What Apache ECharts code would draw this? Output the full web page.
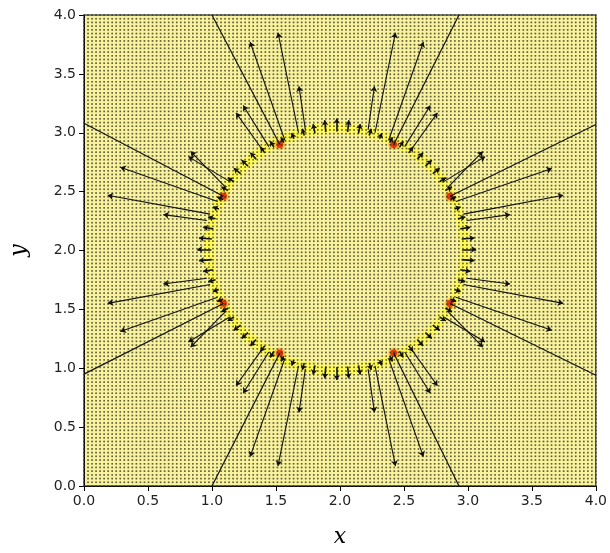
<!DOCTYPE html>
<html><head><meta charset="utf-8">
<script src="https://cdn.jsdelivr.net/npm/echarts@6/dist/echarts.min.js"></script>
<style>html,body{margin:0;padding:0;background:#fff}#c{width:610px;height:553px}</style>
</head><body><div id="c"></div>
<script>
// ---- data ----
const xTicks = [0, 0.5, 1, 1.5, 2, 2.5, 3, 3.5, 4];
const yTicks = [0, 0.5, 1, 1.5, 2, 2.5, 3, 3.5, 4];

// long quiver arrows: tail (x,y) and vector (u,v)
const arrowX = [1.568,1.676,1.730,1.398,1.444, 2.382,2.274,2.220,2.552,2.506,
                2.906,2.965,2.990,2.814,2.847, 2.906,2.965,2.990,2.814,2.847,
                2.382,2.274,2.220,2.552,2.506, 1.568,1.676,1.730,1.398,1.444,
                1.044,0.985,0.960,1.136,1.103, 1.044,0.985,0.960,1.136,1.103];
const arrowY = [2.941,3.000,3.025,2.849,2.882, 2.941,3.000,3.025,2.849,2.882,
                2.417,2.309,2.255,2.587,2.541, 1.603,1.711,1.765,1.433,1.479,
                1.079,1.020,0.995,1.171,1.138, 1.079,1.020,0.995,1.171,1.138,
                1.603,1.711,1.765,1.433,1.479, 2.417,2.309,2.255,2.587,2.541];
const arrowU = [-0.27,-0.16,-0.05,-0.21,-0.20, 0.27,0.16,0.05,0.21,0.20,
                0.75,0.78,0.34,0.32,0.27, 0.75,0.78,0.34,0.32,0.27,
                0.27,0.16,0.05,0.21,0.20, -0.27,-0.16,-0.05,-0.21,-0.20,
                -0.76,-0.80,-0.34,-0.32,-0.27, -0.76,-0.80,-0.34,-0.32,-0.27];
const arrowV = [0.83,0.85,0.37,0.32,0.35, 0.83,0.85,0.37,0.32,0.35,
                0.28,0.16,0.05,0.21,0.30, -0.28,-0.16,-0.05,-0.21,-0.30,
                -0.83,-0.85,-0.37,-0.32,-0.35, -0.83,-0.85,-0.37,-0.32,-0.35,
                -0.29,-0.16,-0.05,-0.21,-0.30, 0.29,0.16,0.05,0.21,0.30];

// short arrows around the ring: angle (deg) and length (data units)
const ringAngle = [0,5,10,15,20,25,30,35,40,45,50,55,60,65,70,75,80,85,
                   90,95,100,105,110,115,120,125,130,135,140,145,150,155,160,165,170,175,
                   180,185,190,195,200,205,210,215,220,225,230,235,240,245,250,255,260,265,
                   270,275,280,285,290,295,300,305,310,315,320,325,330,335,340,345,350,355];
const ringLen = [0.11,0.10,0.08,0.06,0.05,0.05,0.06,0.06,0.07,0.07,0.07,0.06,0.06,0.05,0.05,0.06,0.08,0.10,
                 0.11,0.10,0.08,0.06,0.05,0.05,0.06,0.06,0.07,0.07,0.07,0.06,0.06,0.05,0.05,0.06,0.08,0.10,
                 0.11,0.10,0.08,0.06,0.05,0.05,0.06,0.06,0.07,0.07,0.07,0.06,0.06,0.05,0.05,0.06,0.08,0.10,
                 0.11,0.10,0.08,0.06,0.05,0.05,0.06,0.06,0.07,0.07,0.07,0.06,0.06,0.05,0.05,0.06,0.08,0.10];
const ringCenter = [1.975, 2.01];
const ringRadius = [0.98, 1.00];   // tails of short arrows
const glowRadius = [1.00, 1.03];   // bright band of the field

// red hot spots
const redX = [1.53, 2.42, 2.86, 2.86, 2.42, 1.53, 1.09, 1.09];
const redY = [2.90, 2.90, 2.46, 1.55, 1.13, 1.13, 1.55, 2.46];

// straight segments from hot spots to the frame
const segX0 = [1.53, 2.42, 2.86, 2.86, 2.42, 1.53, 1.09, 1.09];
const segY0 = [2.90, 2.90, 2.46, 1.55, 1.13, 1.13, 1.55, 2.46];
const segX1 = [1.00, 2.93, 4.00, 4.00, 2.93, 1.00, 0.00, 0.00];
const segY1 = [4.00, 4.00, 3.07, 0.94, 0.00, 0.00, 0.95, 3.08];

// quiver sampling mesh
const meshMin = 0, meshMax = 4, meshCount = 128;

// ---- build ----
const mesh = [];
const meshStep = (meshMax - meshMin) / (meshCount - 1);
for (let i = 0; i < meshCount; i++) for (let j = 0; j < meshCount; j++)
  mesh.push([meshMin + i * meshStep, meshMin + j * meshStep]);

const longArrows = arrowX.map((x, i) => ({coords: [[x, arrowY[i]], [x + arrowU[i], arrowY[i] + arrowV[i]]]}));
const shortArrows = ringAngle.map((a, i) => {
  const r = a * Math.PI / 180, c = Math.cos(r), s = Math.sin(r);
  const x = ringCenter[0] + ringRadius[0] * c, y = ringCenter[1] + ringRadius[1] * s;
  return {coords: [[x, y], [x + ringLen[i] * c, y + ringLen[i] * s]]};
});
const segs = segX0.map((x, i) => ({coords: [[x, segY0[i]], [segX1[i], segY1[i]]]}));

const chart = echarts.init(document.getElementById('c'), null, {renderer: 'canvas'});
const tickFont = {fontFamily: 'DejaVu Sans', fontSize: 14, color: '#222'};
chart.setOption({
  animation: false,
  backgroundColor: '#fff',
  grid: {left: 83, right: 9, top: 15, bottom: 62, show: true, backgroundColor: '#f8f29e', borderColor: '#000', borderWidth: 1},
  xAxis: {type: 'value', min: 0, max: 4, interval: 0.5,
    name: 'x', nameLocation: 'middle', nameGap: 40,
    nameTextStyle: {fontFamily: 'DejaVu Serif', fontStyle: 'italic', fontSize: 22, color: '#000'},
    axisLine: {show: true, lineStyle: {color: '#000', width: 1}},
    axisTick: {show: true, length: 5, lineStyle: {color: '#000'}},
    axisLabel: Object.assign({margin: 8, formatter: v => v.toFixed(1)}, tickFont),
    splitLine: {show: false}},
  yAxis: {type: 'value', min: 0, max: 4, interval: 0.5,
    name: 'y', nameLocation: 'middle', nameGap: 54, nameRotate: 90,
    nameTextStyle: {fontFamily: 'DejaVu Serif', fontStyle: 'italic', fontSize: 22, color: '#000'},
    axisLine: {show: true, lineStyle: {color: '#000', width: 1}},
    axisTick: {show: true, length: 5, lineStyle: {color: '#000'}},
    axisLabel: Object.assign({margin: 8, formatter: v => v.toFixed(1)}, tickFont),
    splitLine: {show: false}},
  series: [
    {type: 'custom', coordinateSystem: 'cartesian2d', silent: true, z: 1,
     data: [[ringCenter[0], ringCenter[1], glowRadius[0], glowRadius[1]]],
     renderItem: function (params, api) {
       const cx = api.value(0), cy = api.value(1), rx = api.value(2), ry = api.value(3);
       const pts = [];
       for (let k = 0; k <= 180; k++) {
         const t = k / 180 * Math.PI * 2;
         pts.push(api.coord([cx + rx * Math.cos(t), cy + ry * Math.sin(t)]));
       }
       return {type: 'group', children: [
         {type: 'polyline', shape: {points: pts}, style: {fill: null, stroke: 'rgba(255,248,90,0.7)', lineWidth: 12}},
         {type: 'polyline', shape: {points: pts}, style: {fill: null, stroke: '#fffa50', lineWidth: 6}}
       ]};
     }},
    {type: 'scatter', silent: true, z: 2, symbol: 'circle', symbolSize: 11,
     itemStyle: {color: 'rgba(255,140,0,0.55)'},
     data: redX.map((x, i) => [x, redY[i]])},
    {type: 'scatter', silent: true, z: 3, symbol: 'circle', symbolSize: 7,
     itemStyle: {color: '#e81000'},
     data: redX.map((x, i) => [x, redY[i]])},
    {type: 'scatter', silent: true, z: 4, symbol: 'rect', symbolSize: 1.5, large: true, largeThreshold: 1000,
     itemStyle: {color: 'rgba(60,60,40,0.42)'}, data: mesh},
    {type: 'lines', coordinateSystem: 'cartesian2d', silent: true, z: 5,
     lineStyle: {color: '#111', width: 1.2, opacity: 1}, symbol: ['none', 'none'], data: segs},
    {type: 'lines', coordinateSystem: 'cartesian2d', silent: true, z: 6,
     lineStyle: {color: '#111', width: 1.6, opacity: 1}, symbol: ['none', 'arrow'], symbolSize: 5, data: shortArrows},
    {type: 'lines', coordinateSystem: 'cartesian2d', silent: true, z: 7,
     lineStyle: {color: '#111', width: 1.1, opacity: 1}, symbol: ['none', 'arrow'], symbolSize: 5.5, data: longArrows}
  ]
});
</script></body></html>
